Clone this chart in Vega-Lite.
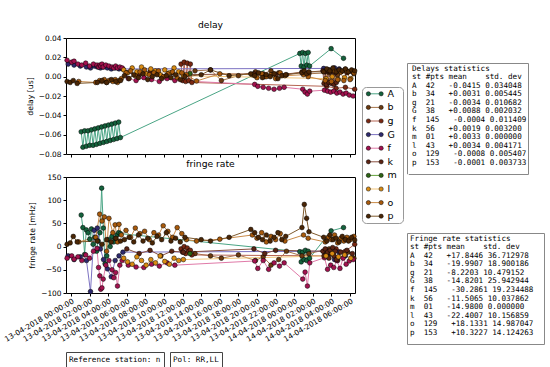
{
"$schema": "https://vega.github.io/schema/vega-lite/v6.json",
"background": "white",
"padding": {"left": 2, "top": 20, "right": 0, "bottom": 0},
"config": {
  "font": "DejaVu Sans",
  "view": {"stroke": "#000", "strokeWidth": 1},
  "axis": {"grid": false, "domain": false, "tickColor": "#000", "tickSize": 3, "labelFont": "DejaVu Sans", "labelFontSize": 7.4, "labelColor": "#000", "titleFont": "DejaVu Sans", "titleFontSize": 7.7, "titleFontWeight": "normal", "titleColor": "#000"},
  "title": {"font": "DejaVu Sans", "fontSize": 9.2, "fontWeight": "normal", "offset": 4, "color": "#000"}
},
"data": {"values": [
{"s":"A","t":"2018-04-13T01:06","d":-0.057,"r":68},
{"s":"A","t":"2018-04-13T01:17","d":-0.073,"r":41},
{"s":"A","t":"2018-04-13T01:28","d":-0.056,"r":-17},
{"s":"A","t":"2018-04-13T01:39","d":-0.072,"r":36},
{"s":"A","t":"2018-04-13T01:50","d":-0.056,"r":30},
{"s":"A","t":"2018-04-13T02:01","d":-0.071,"r":16},
{"s":"A","t":"2018-04-13T02:12","d":-0.055,"r":38},
{"s":"A","t":"2018-04-13T02:23","d":-0.071,"r":5},
{"s":"A","t":"2018-04-13T02:34","d":-0.054,"r":20},
{"s":"A","t":"2018-04-13T02:45","d":-0.070,"r":-10},
{"s":"A","t":"2018-04-13T02:56","d":-0.053,"r":12},
{"s":"A","t":"2018-04-13T03:07","d":-0.069,"r":30},
{"s":"A","t":"2018-04-13T03:18","d":-0.052,"r":126},
{"s":"A","t":"2018-04-13T03:29","d":-0.068,"r":40},
{"s":"A","t":"2018-04-13T03:40","d":-0.051,"r":-37},
{"s":"A","t":"2018-04-13T03:51","d":-0.067,"r":-20},
{"s":"A","t":"2018-04-13T04:02","d":-0.050,"r":15},
{"s":"A","t":"2018-04-13T04:13","d":-0.066,"r":0},
{"s":"A","t":"2018-04-13T04:24","d":-0.049,"r":22},
{"s":"A","t":"2018-04-13T04:35","d":-0.065,"r":10},
{"s":"A","t":"2018-04-13T04:46","d":-0.048,"r":18},
{"s":"A","t":"2018-04-13T04:57","d":-0.064,"r":25},
{"s":"A","t":"2018-04-13T05:08","d":-0.047,"r":30},
{"s":"A","t":"2018-04-13T05:19","d":-0.063,"r":28},
{"s":"A","t":"2018-04-14T00:36","d":0.024,"r":-11},
{"s":"A","t":"2018-04-14T00:45","d":0.011,"r":-33},
{"s":"A","t":"2018-04-14T00:54","d":0.025,"r":-12},
{"s":"A","t":"2018-04-14T01:03","d":0.010,"r":-28},
{"s":"A","t":"2018-04-14T01:12","d":0.024,"r":-8},
{"s":"A","t":"2018-04-14T01:21","d":0.012,"r":-30},
{"s":"A","t":"2018-04-14T01:30","d":0.025,"r":-10},
{"s":"A","t":"2018-04-14T01:39","d":0.011,"r":-25},
{"s":"A","t":"2018-04-14T03:58","d":0.029,"r":34},
{"s":"A","t":"2018-04-14T05:18","d":0.019,"r":41},
{"s":"b","t":"2018-04-13T13:20","d":0.006,"r":-15},
{"s":"b","t":"2018-04-13T15:00","d":0.007,"r":-20},
{"s":"b","t":"2018-04-13T16:10","d":-0.004,"r":-25},
{"s":"b","t":"2018-04-13T18:00","d":0.001,"r":-18},
{"s":"b","t":"2018-04-13T19:50","d":0.005,"r":-30},
{"s":"b","t":"2018-04-13T20:40","d":0.003,"r":-22},
{"s":"b","t":"2018-04-13T21:30","d":0.006,"r":-40},
{"s":"b","t":"2018-04-13T22:20","d":0.004,"r":-28},
{"s":"b","t":"2018-04-13T23:10","d":0.002,"r":-10},
{"s":"b","t":"2018-04-14T00:50","d":0.005,"r":-20},
{"s":"b","t":"2018-04-14T01:35","d":0.003,"r":-15},
{"s":"b","t":"2018-04-14T03:45","d":0.004,"r":-5},
{"s":"b","t":"2018-04-14T04:40","d":0.002,"r":-30},
{"s":"b","t":"2018-04-14T05:45","d":0.005,"r":-12},
{"s":"b","t":"2018-04-14T06:25","d":0.003,"r":-25},
{"s":"g","t":"2018-04-13T11:50","d":0.013,"r":-5},
{"s":"g","t":"2018-04-13T12:00","d":-0.004,"r":-12},
{"s":"g","t":"2018-04-13T12:10","d":0.015,"r":0},
{"s":"g","t":"2018-04-13T12:20","d":-0.005,"r":-15},
{"s":"g","t":"2018-04-13T12:30","d":0.014,"r":-3},
{"s":"g","t":"2018-04-13T12:40","d":-0.004,"r":-10},
{"s":"g","t":"2018-04-13T12:50","d":0.013,"r":-8},
{"s":"g","t":"2018-04-13T13:00","d":-0.006,"r":-18},
{"s":"g","t":"2018-04-14T03:30","d":-0.010,"r":-20},
{"s":"g","t":"2018-04-14T04:30","d":-0.012,"r":-5},
{"s":"g","t":"2018-04-14T05:30","d":-0.011,"r":-10},
{"s":"g","t":"2018-04-14T06:30","d":-0.013,"r":5},
{"s":"G","t":"2018-04-12T23:42","d":0.013,"r":-20},
{"s":"G","t":"2018-04-13T00:20","d":0.012,"r":-28},
{"s":"G","t":"2018-04-13T01:00","d":0.011,"r":-22},
{"s":"G","t":"2018-04-13T01:40","d":0.010,"r":-30},
{"s":"G","t":"2018-04-13T02:06","d":0.009,"r":-97},
{"s":"G","t":"2018-04-13T02:30","d":0.011,"r":35},
{"s":"G","t":"2018-04-13T02:50","d":0.010,"r":40},
{"s":"G","t":"2018-04-13T03:10","d":0.009,"r":-5},
{"s":"G","t":"2018-04-13T03:30","d":0.010,"r":-28},
{"s":"G","t":"2018-04-13T03:55","d":0.009,"r":-48},
{"s":"G","t":"2018-04-13T04:20","d":0.008,"r":-65},
{"s":"G","t":"2018-04-13T04:45","d":0.009,"r":-30},
{"s":"G","t":"2018-04-13T05:10","d":0.008,"r":-20},
{"s":"G","t":"2018-04-13T05:35","d":0.008,"r":-12},
{"s":"G","t":"2018-04-14T03:10","d":0.0085,"r":-10},
{"s":"G","t":"2018-04-14T03:50","d":0.007,"r":-15},
{"s":"G","t":"2018-04-14T04:20","d":0.009,"r":-28},
{"s":"G","t":"2018-04-14T04:50","d":0.008,"r":-12},
{"s":"G","t":"2018-04-14T05:30","d":0.0075,"r":-20},
{"s":"f","t":"2018-04-12T23:35","d":0.017,"r":-25},
{"s":"f","t":"2018-04-13T00:05","d":0.015,"r":-20},
{"s":"f","t":"2018-04-13T00:20","d":0.016,"r":-27},
{"s":"f","t":"2018-04-13T00:45","d":0.013,"r":-22},
{"s":"f","t":"2018-04-13T01:10","d":0.012,"r":-30},
{"s":"f","t":"2018-04-13T01:35","d":0.014,"r":-18},
{"s":"f","t":"2018-04-13T02:00","d":0.011,"r":-25},
{"s":"f","t":"2018-04-13T02:25","d":0.013,"r":-10},
{"s":"f","t":"2018-04-13T02:48","d":0.012,"r":-4},
{"s":"f","t":"2018-04-13T02:58","d":0.010,"r":-45},
{"s":"f","t":"2018-04-13T03:06","d":0.012,"r":-63},
{"s":"f","t":"2018-04-13T03:12","d":0.011,"r":-92},
{"s":"f","t":"2018-04-13T03:20","d":0.013,"r":-89},
{"s":"f","t":"2018-04-13T03:28","d":0.010,"r":-70},
{"s":"f","t":"2018-04-13T03:45","d":0.012,"r":-40},
{"s":"f","t":"2018-04-13T04:05","d":0.011,"r":-30},
{"s":"f","t":"2018-04-13T04:25","d":0.010,"r":-50},
{"s":"f","t":"2018-04-13T04:36","d":0.009,"r":-67},
{"s":"f","t":"2018-04-13T04:48","d":0.011,"r":-56},
{"s":"f","t":"2018-04-13T05:00","d":0.009,"r":-85},
{"s":"f","t":"2018-04-13T05:15","d":0.010,"r":-40},
{"s":"f","t":"2018-04-13T05:30","d":0.009,"r":-30},
{"s":"f","t":"2018-04-13T06:10","d":-0.002,"r":-40},
{"s":"f","t":"2018-04-13T07:00","d":-0.004,"r":-44},
{"s":"f","t":"2018-04-13T07:50","d":-0.001,"r":-45},
{"s":"f","t":"2018-04-13T08:40","d":-0.003,"r":-38},
{"s":"f","t":"2018-04-13T09:30","d":-0.005,"r":-42},
{"s":"f","t":"2018-04-13T10:20","d":-0.002,"r":-35},
{"s":"f","t":"2018-04-13T11:10","d":-0.004,"r":-40},
{"s":"f","t":"2018-04-13T19:45","d":-0.008,"r":-31},
{"s":"f","t":"2018-04-13T20:05","d":-0.010,"r":-47},
{"s":"f","t":"2018-04-13T20:40","d":-0.011,"r":-30},
{"s":"f","t":"2018-04-13T21:15","d":-0.012,"r":-49},
{"s":"f","t":"2018-04-13T21:50","d":-0.013,"r":-35},
{"s":"f","t":"2018-04-13T22:25","d":-0.012,"r":-42},
{"s":"f","t":"2018-04-13T22:55","d":-0.011,"r":-35},
{"s":"f","t":"2018-04-14T00:55","d":-0.013,"r":-70},
{"s":"f","t":"2018-04-14T01:10","d":-0.016,"r":-55},
{"s":"f","t":"2018-04-14T01:25","d":-0.018,"r":-85},
{"s":"f","t":"2018-04-14T01:40","d":-0.015,"r":-35},
{"s":"f","t":"2018-04-14T03:15","d":-0.014,"r":-24},
{"s":"f","t":"2018-04-14T03:35","d":-0.015,"r":-49},
{"s":"f","t":"2018-04-14T03:55","d":-0.016,"r":-40},
{"s":"f","t":"2018-04-14T04:15","d":-0.015,"r":-45},
{"s":"f","t":"2018-04-14T04:35","d":-0.017,"r":-30},
{"s":"f","t":"2018-04-14T04:55","d":-0.016,"r":-47},
{"s":"f","t":"2018-04-14T05:15","d":-0.018,"r":-25},
{"s":"f","t":"2018-04-14T05:35","d":-0.017,"r":-38},
{"s":"f","t":"2018-04-14T05:55","d":-0.019,"r":-31},
{"s":"f","t":"2018-04-14T06:20","d":-0.020,"r":-28},
{"s":"k","t":"2018-04-13T06:00","d":0.004,"r":-5},
{"s":"k","t":"2018-04-13T07:20","d":0.002,"r":-15},
{"s":"k","t":"2018-04-13T08:30","d":0.005,"r":-8},
{"s":"k","t":"2018-04-13T09:40","d":0.001,"r":-20},
{"s":"k","t":"2018-04-13T10:50","d":0.004,"r":-10},
{"s":"k","t":"2018-04-13T12:05","d":0.002,"r":-12},
{"s":"k","t":"2018-04-13T19:40","d":0.003,"r":-5},
{"s":"k","t":"2018-04-13T20:50","d":0.000,"r":-15},
{"s":"k","t":"2018-04-13T22:00","d":0.002,"r":-8},
{"s":"k","t":"2018-04-14T03:05","d":0.006,"r":-10},
{"s":"k","t":"2018-04-14T03:12","d":-0.007,"r":-20},
{"s":"k","t":"2018-04-14T03:20","d":0.005,"r":-5},
{"s":"k","t":"2018-04-14T03:28","d":-0.008,"r":-18},
{"s":"k","t":"2018-04-14T03:36","d":0.006,"r":-12},
{"s":"k","t":"2018-04-14T03:44","d":-0.006,"r":-25},
{"s":"k","t":"2018-04-14T03:52","d":0.005,"r":-8},
{"s":"k","t":"2018-04-14T04:00","d":-0.007,"r":-15},
{"s":"k","t":"2018-04-14T04:08","d":0.006,"r":-2},
{"s":"k","t":"2018-04-14T04:16","d":-0.008,"r":-20},
{"s":"k","t":"2018-04-14T04:24","d":0.004,"r":-10},
{"s":"k","t":"2018-04-14T04:32","d":-0.006,"r":-28},
{"s":"k","t":"2018-04-14T05:00","d":0.005,"r":-12},
{"s":"k","t":"2018-04-14T05:40","d":0.004,"r":-8},
{"s":"k","t":"2018-04-14T06:15","d":0.005,"r":-15},
{"s":"m","t":"2018-04-13T12:48","d":0.0033,"r":-15},
{"s":"l","t":"2018-04-13T05:40","d":0.007,"r":-25},
{"s":"l","t":"2018-04-13T06:05","d":0.004,"r":-33},
{"s":"l","t":"2018-04-13T06:35","d":0.009,"r":-38},
{"s":"l","t":"2018-04-13T07:05","d":0.005,"r":-22},
{"s":"l","t":"2018-04-13T07:35","d":0.010,"r":-30},
{"s":"l","t":"2018-04-13T08:05","d":0.003,"r":-40},
{"s":"l","t":"2018-04-13T08:35","d":0.008,"r":-28},
{"s":"l","t":"2018-04-13T09:05","d":0.006,"r":-35},
{"s":"l","t":"2018-04-13T09:35","d":0.002,"r":-20},
{"s":"l","t":"2018-04-13T10:05","d":0.007,"r":-32},
{"s":"l","t":"2018-04-13T10:35","d":0.004,"r":-38},
{"s":"l","t":"2018-04-13T11:05","d":0.009,"r":-25},
{"s":"l","t":"2018-04-13T11:35","d":0.005,"r":-30},
{"s":"l","t":"2018-04-13T12:05","d":0.001,"r":-28},
{"s":"l","t":"2018-04-14T03:25","d":-0.002,"r":-20},
{"s":"l","t":"2018-04-14T04:05","d":0.000,"r":-15},
{"s":"l","t":"2018-04-14T04:45","d":-0.003,"r":-22},
{"s":"l","t":"2018-04-14T05:25","d":-0.001,"r":-18},
{"s":"l","t":"2018-04-14T06:05","d":-0.002,"r":-25},
{"s":"o","t":"2018-04-13T00:50","d":-0.005,"r":10},
{"s":"o","t":"2018-04-13T02:40","d":-0.006,"r":20},
{"s":"o","t":"2018-04-13T03:05","d":-0.004,"r":70},
{"s":"o","t":"2018-04-13T03:20","d":-0.005,"r":55},
{"s":"o","t":"2018-04-13T03:35","d":-0.003,"r":64},
{"s":"o","t":"2018-04-13T03:50","d":-0.006,"r":-10},
{"s":"o","t":"2018-04-13T04:05","d":-0.004,"r":61},
{"s":"o","t":"2018-04-13T04:30","d":-0.005,"r":30},
{"s":"o","t":"2018-04-13T04:45","d":-0.003,"r":47},
{"s":"o","t":"2018-04-13T05:00","d":-0.006,"r":10},
{"s":"o","t":"2018-04-13T05:10","d":-0.004,"r":48},
{"s":"o","t":"2018-04-13T05:25","d":-0.002,"r":25},
{"s":"o","t":"2018-04-13T05:55","d":0.004,"r":35},
{"s":"o","t":"2018-04-13T06:25","d":0.006,"r":20},
{"s":"o","t":"2018-04-13T06:55","d":0.001,"r":40},
{"s":"o","t":"2018-04-13T07:25","d":0.005,"r":28},
{"s":"o","t":"2018-04-13T07:55","d":0.007,"r":33},
{"s":"o","t":"2018-04-13T08:25","d":0.002,"r":15},
{"s":"o","t":"2018-04-13T08:55","d":0.004,"r":30},
{"s":"o","t":"2018-04-13T09:25","d":0.006,"r":25},
{"s":"o","t":"2018-04-13T09:55","d":0.000,"r":45},
{"s":"o","t":"2018-04-13T10:25","d":0.003,"r":33},
{"s":"o","t":"2018-04-13T10:55","d":0.005,"r":20},
{"s":"o","t":"2018-04-13T11:25","d":-0.001,"r":41},
{"s":"o","t":"2018-04-13T11:55","d":0.004,"r":28},
{"s":"o","t":"2018-04-13T12:25","d":0.002,"r":15},
{"s":"o","t":"2018-04-13T13:30","d":-0.0045,"r":12},
{"s":"o","t":"2018-04-13T16:00","d":0.003,"r":16},
{"s":"o","t":"2018-04-13T19:30","d":0.002,"r":25},
{"s":"o","t":"2018-04-13T20:00","d":-0.001,"r":18},
{"s":"o","t":"2018-04-13T20:30","d":0.003,"r":30},
{"s":"o","t":"2018-04-13T21:00","d":0.000,"r":10},
{"s":"o","t":"2018-04-13T21:30","d":0.002,"r":22},
{"s":"o","t":"2018-04-13T22:00","d":-0.002,"r":15},
{"s":"o","t":"2018-04-13T22:30","d":0.004,"r":28},
{"s":"o","t":"2018-04-13T23:00","d":0.001,"r":12},
{"s":"o","t":"2018-04-14T01:00","d":0.002,"r":25},
{"s":"o","t":"2018-04-14T01:30","d":0.000,"r":18},
{"s":"o","t":"2018-04-14T03:20","d":-0.004,"r":10},
{"s":"o","t":"2018-04-14T03:40","d":0.007,"r":20},
{"s":"o","t":"2018-04-14T04:00","d":-0.005,"r":15},
{"s":"o","t":"2018-04-14T04:20","d":0.006,"r":25},
{"s":"o","t":"2018-04-14T04:40","d":-0.003,"r":8},
{"s":"o","t":"2018-04-14T05:00","d":0.005,"r":18},
{"s":"o","t":"2018-04-14T05:20","d":-0.004,"r":12},
{"s":"o","t":"2018-04-14T05:40","d":0.006,"r":20},
{"s":"o","t":"2018-04-14T06:00","d":-0.003,"r":15},
{"s":"o","t":"2018-04-14T06:25","d":0.004,"r":22},
{"s":"p","t":"2018-04-12T23:35","d":-0.005,"r":5},
{"s":"p","t":"2018-04-12T23:55","d":-0.006,"r":8},
{"s":"p","t":"2018-04-13T00:15","d":-0.004,"r":22},
{"s":"p","t":"2018-04-13T00:40","d":-0.007,"r":10},
{"s":"p","t":"2018-04-13T02:50","d":-0.006,"r":12},
{"s":"p","t":"2018-04-13T03:20","d":-0.004,"r":5},
{"s":"p","t":"2018-04-13T03:50","d":-0.006,"r":15},
{"s":"p","t":"2018-04-13T04:20","d":-0.003,"r":10},
{"s":"p","t":"2018-04-13T04:50","d":-0.005,"r":18},
{"s":"p","t":"2018-04-13T05:20","d":-0.004,"r":12},
{"s":"p","t":"2018-04-13T05:45","d":0.001,"r":15},
{"s":"p","t":"2018-04-13T06:15","d":-0.002,"r":20},
{"s":"p","t":"2018-04-13T06:45","d":0.002,"r":10},
{"s":"p","t":"2018-04-13T07:15","d":-0.001,"r":25},
{"s":"p","t":"2018-04-13T07:45","d":0.003,"r":12},
{"s":"p","t":"2018-04-13T08:15","d":-0.003,"r":18},
{"s":"p","t":"2018-04-13T08:45","d":0.000,"r":8},
{"s":"p","t":"2018-04-13T09:15","d":0.002,"r":22},
{"s":"p","t":"2018-04-13T09:45","d":-0.002,"r":15},
{"s":"p","t":"2018-04-13T10:15","d":0.001,"r":30},
{"s":"p","t":"2018-04-13T10:45","d":-0.001,"r":12},
{"s":"p","t":"2018-04-13T11:15","d":0.002,"r":18},
{"s":"p","t":"2018-04-13T11:45","d":-0.003,"r":10},
{"s":"p","t":"2018-04-13T12:15","d":0.000,"r":20},
{"s":"p","t":"2018-04-13T14:00","d":0.002,"r":15},
{"s":"p","t":"2018-04-13T15:00","d":0.007,"r":12},
{"s":"p","t":"2018-04-13T17:00","d":0.001,"r":20},
{"s":"p","t":"2018-04-13T19:20","d":0.003,"r":37},
{"s":"p","t":"2018-04-13T19:45","d":0.001,"r":30},
{"s":"p","t":"2018-04-13T20:10","d":0.004,"r":20},
{"s":"p","t":"2018-04-13T20:35","d":-0.001,"r":15},
{"s":"p","t":"2018-04-13T21:00","d":0.002,"r":25},
{"s":"p","t":"2018-04-13T21:25","d":0.000,"r":12},
{"s":"p","t":"2018-04-13T21:50","d":0.003,"r":20},
{"s":"p","t":"2018-04-13T22:15","d":-0.002,"r":30},
{"s":"p","t":"2018-04-13T22:40","d":0.001,"r":15},
{"s":"p","t":"2018-04-13T23:05","d":0.002,"r":22},
{"s":"p","t":"2018-04-14T00:50","d":0.004,"r":41},
{"s":"p","t":"2018-04-14T01:05","d":0.006,"r":91},
{"s":"p","t":"2018-04-14T01:20","d":0.003,"r":61},
{"s":"p","t":"2018-04-14T01:35","d":0.005,"r":32},
{"s":"p","t":"2018-04-14T03:10","d":0.005,"r":20},
{"s":"p","t":"2018-04-14T03:30","d":0.008,"r":12},
{"s":"p","t":"2018-04-14T03:50","d":0.006,"r":25},
{"s":"p","t":"2018-04-14T04:10","d":0.009,"r":15},
{"s":"p","t":"2018-04-14T04:30","d":0.005,"r":18},
{"s":"p","t":"2018-04-14T04:50","d":0.007,"r":10},
{"s":"p","t":"2018-04-14T05:10","d":0.006,"r":22},
{"s":"p","t":"2018-04-14T05:30","d":0.008,"r":15},
{"s":"p","t":"2018-04-14T05:50","d":0.005,"r":12},
{"s":"p","t":"2018-04-14T06:10","d":0.007,"r":20},
{"s":"p","t":"2018-04-14T06:30","d":0.006,"r":14}
]},
"columns": 1,
"align": "none",
"spacing": 6,
"concat": [
{
 "spacing": 2,
 "hconcat": [
  {
   "bounds": "flush",
   "spacing": 23,
   "vconcat": [
    {
     "width": 289, "height": 116,
     "title": "delay",
     "encoding": {
      "x": {"field": "t", "type": "temporal", "scale": {"domain": ["2018-04-12T23:28:00", "2018-04-14T06:32:00"]}, "axis": {"labels": false, "title": null, "values": [1523577600000, 1523584800000, 1523592000000, 1523599200000, 1523606400000, 1523613600000, 1523620800000, 1523628000000, 1523635200000, 1523642400000, 1523649600000, 1523656800000, 1523664000000, 1523671200000, 1523678400000, 1523685600000]}},
      "y": {"field": "d", "type": "quantitative", "scale": {"domain": [-0.08, 0.04], "nice": false, "zero": false}, "axis": {"title": "delay [us]", "values": [-0.08, -0.06, -0.04, -0.02, 0, 0.02, 0.04], "format": ".2f", "labelPadding": 2, "titlePadding": 4}}
     },
     "layer": [
      {"mark": {"type": "line", "strokeWidth": 1},
       "encoding": {
        "color": {"field": "s", "type": "nominal", "scale": {"domain": ["A","b","g","G","f","k","m","l","o","p"], "range": ["#4aa585","#a5754a","#b56452","#7c72c2","#e07aa8","#8a5040","#63a13c","#f2c57a","#c98a48","#7e5a2e"]}, "legend": null}
       }},
      {"mark": {"type": "point", "filled": true, "size": 22, "stroke": "#000", "strokeWidth": 0.5, "opacity": 1},
       "encoding": {
        "fill": {"field": "s", "type": "nominal", "scale": {"domain": ["A","b","g","G","f","k","m","l","o","p"], "range": ["#14623c","#6b3a10","#7a2812","#2e2a6e","#a3124f","#5c2414","#2d6414","#d98b12","#a85a0c","#4a2606"]}, "legend": null}
       }}
     ]
    },
    {
     "width": 289, "height": 116,
     "title": "fringe rate",
     "encoding": {
      "x": {"field": "t", "type": "temporal", "scale": {"domain": ["2018-04-12T23:28:00", "2018-04-14T06:32:00"]}, "axis": {"title": null, "values": [1523577600000, 1523584800000, 1523592000000, 1523599200000, 1523606400000, 1523613600000, 1523620800000, 1523628000000, 1523635200000, 1523642400000, 1523649600000, 1523656800000, 1523664000000, 1523671200000, 1523678400000, 1523685600000], "format": "%d-%m-%Y %H:%M:%S", "labelAngle": -30, "labelAlign": "right", "labelBaseline": "top", "labelPadding": 1, "labelOverlap": false}},
      "y": {"field": "r", "type": "quantitative", "scale": {"domain": [-100, 150], "nice": false, "zero": false}, "axis": {"title": "fringe rate [mHz]", "values": [-100, -50, 0, 50, 100, 150], "labelPadding": 2, "titlePadding": 4}}
     },
     "layer": [
      {"mark": {"type": "line", "strokeWidth": 1},
       "encoding": {
        "color": {"field": "s", "type": "nominal", "scale": {"domain": ["A","b","g","G","f","k","m","l","o","p"], "range": ["#4aa585","#a5754a","#b56452","#7c72c2","#e07aa8","#8a5040","#63a13c","#f2c57a","#c98a48","#7e5a2e"]}, "legend": null}
       }},
      {"mark": {"type": "point", "filled": true, "size": 22, "stroke": "#000", "strokeWidth": 0.5, "opacity": 1},
       "encoding": {
        "fill": {"field": "s", "type": "nominal", "scale": {"domain": ["A","b","g","G","f","k","m","l","o","p"], "range": ["#14623c","#6b3a10","#7a2812","#2e2a6e","#a3124f","#5c2414","#2d6414","#d98b12","#a85a0c","#4a2606"]}, "legend": null}
       }}
     ]
    }
   ]
  },
  {
   "bounds": "flush",
   "spacing": 0,
   "vconcat": [
    {"width": 1, "height": 49, "data": {"values": [{"t": ""}]}, "mark": {"type": "text"}, "encoding": {"text": {"field": "t"}}, "view": {"stroke": "white"}},
    {
     "width": 41, "height": 136,
     "data": {"values": [{"s":"A"},{"s":"b"},{"s":"g"},{"s":"G"},{"s":"f"},{"s":"k"},{"s":"m"},{"s":"l"},{"s":"o"},{"s":"p"}]},
     "view": {"stroke": "#999", "cornerRadius": 4},
     "encoding": {"y": {"field": "s", "type": "ordinal", "sort": null, "scale": {"type": "point", "padding": 0.5}, "axis": null}},
     "layer": [
      {"mark": {"type": "rule", "strokeWidth": 1},
       "encoding": {
        "x": {"datum": 7, "type": "quantitative", "scale": {"domain": [0, 41]}, "axis": null},
        "x2": {"datum": 21},
        "color": {"field": "s", "type": "nominal", "scale": {"domain": ["A","b","g","G","f","k","m","l","o","p"], "range": ["#4aa585","#a5754a","#b56452","#7c72c2","#e07aa8","#8a5040","#63a13c","#f2c57a","#c98a48","#7e5a2e"]}, "legend": null}
       }},
      {"mark": {"type": "point", "filled": true, "size": 18, "stroke": "#000", "strokeWidth": 0.5, "opacity": 1},
       "encoding": {
        "x": {"datum": 7, "type": "quantitative"},
        "fill": {"field": "s", "type": "nominal", "scale": {"domain": ["A","b","g","G","f","k","m","l","o","p"], "range": ["#14623c","#6b3a10","#7a2812","#2e2a6e","#a3124f","#5c2414","#2d6414","#d98b12","#a85a0c","#4a2606"]}, "legend": null}
       }},
      {"mark": {"type": "point", "filled": true, "size": 18, "stroke": "#000", "strokeWidth": 0.5, "opacity": 1},
       "encoding": {
        "x": {"datum": 21, "type": "quantitative"},
        "fill": {"field": "s", "type": "nominal", "legend": null}
       }},
      {"mark": {"type": "text", "align": "left", "baseline": "middle", "fontSize": 9.5, "font": "DejaVu Sans", "color": "#000"},
       "encoding": {
        "x": {"datum": 28, "type": "quantitative"},
        "text": {"field": "s"}
       }}
     ]
    }
   ]
  },
  {
   "bounds": "flush",
   "spacing": 0,
   "vconcat": [
    {"width": 1, "height": 25, "data": {"values": [{"t": ""}]}, "mark": {"type": "text"}, "encoding": {"text": {"field": "t"}}, "view": {"stroke": "white"}},
    {
     "width": 121, "height": 111,
     "data": {"values": [
      {"t": "Delays statistics"},
      {"t": "st\u00a0#pts\u00a0mean\u00a0\u00a0\u00a0\u00a0std.\u00a0dev"},
      {"t": "A\u00a0\u00a042\u00a0\u00a0\u00a0-0.0415\u00a00.034048"},
      {"t": "b\u00a0\u00a034\u00a0\u00a0\u00a0+0.0031\u00a00.005445"},
      {"t": "g\u00a0\u00a021\u00a0\u00a0\u00a0-0.0034\u00a00.010682"},
      {"t": "G\u00a0\u00a038\u00a0\u00a0\u00a0+0.0088\u00a00.002032"},
      {"t": "f\u00a0\u00a0145\u00a0\u00a0\u00a0-0.0004\u00a00.011409"},
      {"t": "k\u00a0\u00a056\u00a0\u00a0\u00a0+0.0019\u00a00.003200"},
      {"t": "m\u00a0\u00a001\u00a0\u00a0\u00a0+0.0033\u00a00.000000"},
      {"t": "l\u00a0\u00a043\u00a0\u00a0\u00a0+0.0034\u00a00.004171"},
      {"t": "o\u00a0\u00a0129\u00a0\u00a0\u00a0-0.0008\u00a00.005407"},
      {"t": "p\u00a0\u00a0153\u00a0\u00a0\u00a0-0.0001\u00a00.003733"}
     ]},
     "view": {"stroke": "#888"},
     "mark": {"type": "text", "align": "left", "baseline": "middle", "font": "DejaVu Sans Mono", "fontSize": 7.6, "dx": 5, "color": "#000"},
     "encoding": {
      "y": {"field": "t", "type": "ordinal", "sort": null, "scale": {"type": "point", "padding": 1.27, "align": 0.34}, "axis": null},
      "x": {"datum": 0, "type": "quantitative", "scale": {"domain": [0, 1]}, "axis": null},
      "text": {"field": "t"}
     }
    },
    {"width": 1, "height": 59, "data": {"values": [{"t": ""}]}, "mark": {"type": "text"}, "encoding": {"text": {"field": "t"}}, "view": {"stroke": "white"}},
    {
     "width": 137, "height": 111,
     "data": {"values": [
      {"t": "Fringe rate statistics"},
      {"t": "st\u00a0#pts\u00a0mean\u00a0\u00a0\u00a0\u00a0std.\u00a0dev"},
      {"t": "A\u00a0\u00a042\u00a0\u00a0\u00a0+17.8446\u00a036.712978"},
      {"t": "b\u00a0\u00a034\u00a0\u00a0\u00a0-19.9907\u00a018.900186"},
      {"t": "g\u00a0\u00a021\u00a0\u00a0\u00a0-8.2203\u00a010.479152"},
      {"t": "G\u00a0\u00a038\u00a0\u00a0\u00a0-14.8201\u00a025.942944"},
      {"t": "f\u00a0\u00a0145\u00a0\u00a0\u00a0-30.2861\u00a019.234488"},
      {"t": "k\u00a0\u00a056\u00a0\u00a0\u00a0-11.5065\u00a010.037862"},
      {"t": "m\u00a0\u00a001\u00a0\u00a0\u00a0-14.9800\u00a00.000000"},
      {"t": "l\u00a0\u00a043\u00a0\u00a0\u00a0-22.4007\u00a010.156859"},
      {"t": "o\u00a0\u00a0129\u00a0\u00a0\u00a0+18.1331\u00a014.987047"},
      {"t": "p\u00a0\u00a0153\u00a0\u00a0\u00a0+10.3227\u00a014.124263"}
     ]},
     "view": {"stroke": "#888"},
     "mark": {"type": "text", "align": "left", "baseline": "middle", "font": "DejaVu Sans Mono", "fontSize": 7.6, "dx": 3, "color": "#000"},
     "encoding": {
      "y": {"field": "t", "type": "ordinal", "sort": null, "scale": {"type": "point", "padding": 1.27, "align": 0.34}, "axis": null},
      "x": {"datum": 0, "type": "quantitative", "scale": {"domain": [0, 1]}, "axis": null},
      "text": {"field": "t"}
     }
    }
   ]
  }
 ]
},
{
 "bounds": "flush",
 "spacing": 6,
 "hconcat": [
  {
   "width": 98, "height": 15,
   "data": {"values": [{"t": "Reference station: n"}]},
   "view": {"stroke": "#444"},
   "mark": {"type": "text", "align": "left", "baseline": "middle", "font": "DejaVu Sans Mono", "fontSize": 7.6, "dx": 3, "color": "#000"},
   "encoding": {
    "x": {"datum": 0, "type": "quantitative", "scale": {"domain": [0, 1]}, "axis": null},
    "y": {"datum": 0.5, "type": "quantitative", "scale": {"domain": [0, 1]}, "axis": null},
    "text": {"field": "t"}
   }
  },
  {
   "width": 52, "height": 15,
   "data": {"values": [{"t": "Pol: RR,LL"}]},
   "view": {"stroke": "#444"},
   "mark": {"type": "text", "align": "left", "baseline": "middle", "font": "DejaVu Sans Mono", "fontSize": 7.6, "dx": 3, "color": "#000"},
   "encoding": {
    "x": {"datum": 0, "type": "quantitative", "scale": {"domain": [0, 1]}, "axis": null},
    "y": {"datum": 0.5, "type": "quantitative", "scale": {"domain": [0, 1]}, "axis": null},
    "text": {"field": "t"}
   }
  }
 ]
}
]
}
